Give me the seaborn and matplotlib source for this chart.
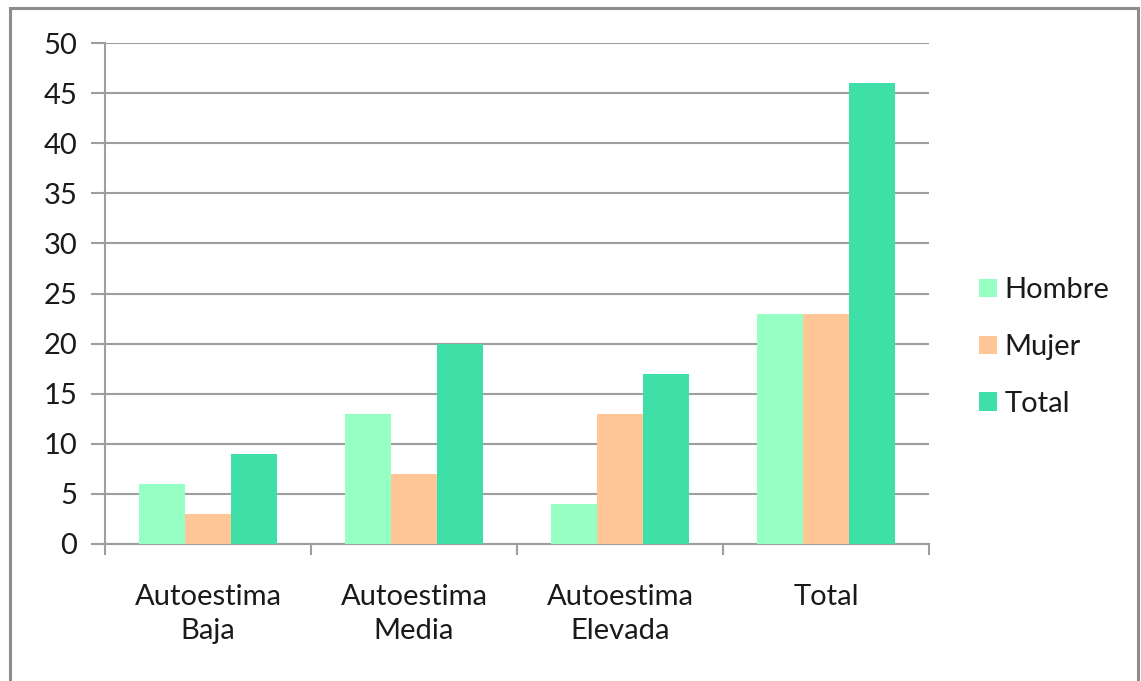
import matplotlib
matplotlib.use("Agg")
import matplotlib.pyplot as plt
from matplotlib.patches import Rectangle
from matplotlib.ticker import FixedLocator
import seaborn as sns
import pandas as pd

categories = ["Autoestima\nBaja", "Autoestima\nMedia", "Autoestima\nElevada", "Total"]
hombre = [6, 13, 4, 23]
mujer = [3, 7, 13, 23]
total = [9, 20, 17, 46]
series_names = ["Hombre", "Mujer", "Total"]
series_colors = ["#96FFC4", "#FFC697", "#3EE0A8"]
y_ticks = list(range(0, 51, 5))

df = pd.DataFrame({
    "categoria": categories * 3,
    "serie": [s for s in series_names for _ in categories],
    "valor": hombre + mujer + total,
})

sns.set_theme(style="white")
plt.rcParams["font.family"] = ["Lato", "DejaVu Sans"]

W, H = 1141, 681
FS = 21
fig = plt.figure(figsize=(W / 100, H / 100), dpi=100)
ax = fig.add_axes([105 / W, 1 - 544 / H, (929 - 105) / W, (544 - 43) / H])

sns.barplot(data=df, x="categoria", y="valor", hue="serie", order=categories,
            hue_order=series_names, palette=series_colors, width=0.67,
            gap=0, saturation=1, ax=ax, legend=True, zorder=3)
for p in ax.patches:
    p.set_edgecolor("none")
    p.set_linewidth(0)

grid_c = "#9E9E9E"
ax.set_ylim(0, 50)
ax.set_xlim(-0.5, len(categories) - 0.5)
ax.set_yticks(y_ticks)
ax.yaxis.grid(True, color=grid_c, linewidth=1.5, zorder=0)
ax.set_axisbelow(True)
for side in ["top", "right"]:
    ax.spines[side].set_visible(False)
for side in ["left", "bottom"]:
    ax.spines[side].set_color(grid_c)
    ax.spines[side].set_linewidth(1.5)

ax.set_xlabel("")
ax.set_ylabel("")
ax.tick_params(axis="y", which="major", length=10, width=1.5, color=grid_c,
               labelsize=FS, labelcolor="#1a1a1a", pad=10, left=True)
ax.tick_params(axis="x", which="major", length=0, labelsize=FS,
               labelcolor="#1a1a1a", pad=29)
ax.xaxis.set_minor_locator(FixedLocator([i - 0.5 for i in range(len(categories) + 1)]))
ax.tick_params(axis="x", which="minor", length=8, width=1.5, color=grid_c,
               bottom=True)
for lbl in ax.get_xticklabels():
    lbl.set_linespacing(1.37)

handles, labels = ax.get_legend_handles_labels()
ax.legend(handles, labels, loc="center left", bbox_to_anchor=(1.0607, 0.393),
          frameon=False, fontsize=FS, handlelength=0.6, handleheight=0.6,
          handletextpad=0.28, labelspacing=1.05, borderpad=0, borderaxespad=0,
          labelcolor="#1a1a1a")

fig.patches.append(Rectangle((9.5 / W, -0.05), (1138 - 9.5) / W, 1.05 - 8.5 / H,
                             transform=fig.transFigure, fill=False,
                             edgecolor="#8C8C8C", linewidth=2.2))

fig.savefig("out.png", dpi=100, facecolor="white")
